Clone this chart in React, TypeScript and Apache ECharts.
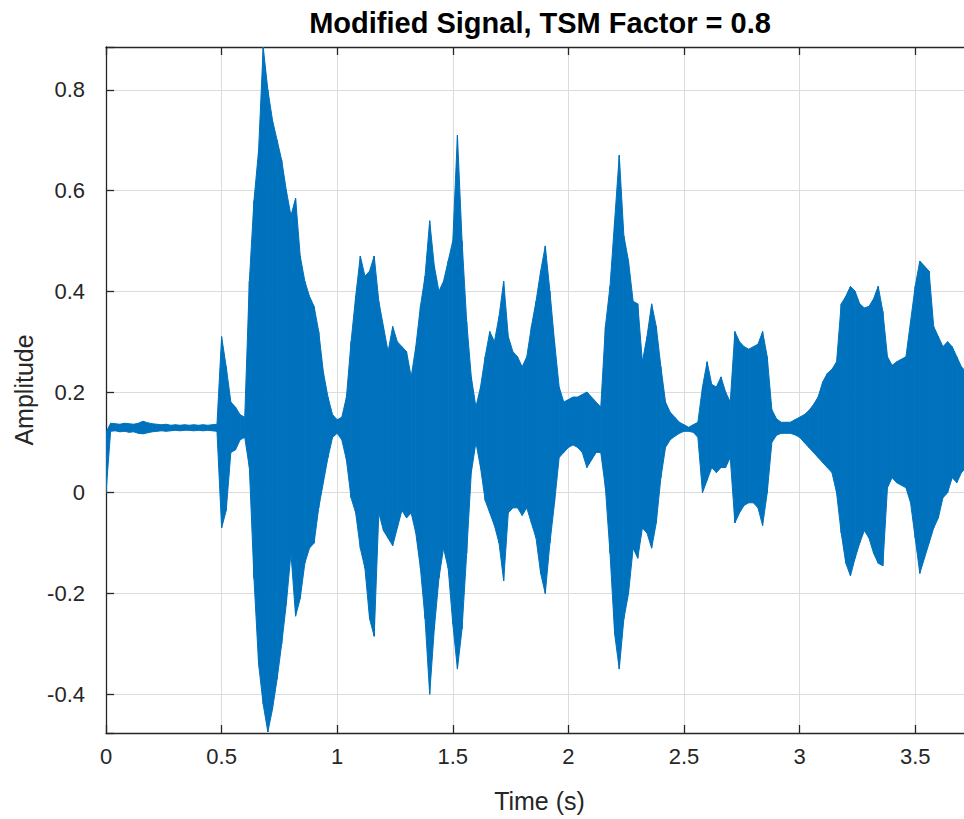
import React, { useEffect, useRef } from 'react';
import * as echarts from 'echarts';

// Sampling grid of the envelope (seconds)
const T_START = 0;
const T_STEP = 0.02;

// Upper envelope of the waveform, t = 0 .. 3.72 s every 0.02 s
const UPPER = [
  0.12, 0.138, 0.137, 0.136, 0.138, 0.137, 0.136, 0.138, 0.142, 0.139,
  0.137, 0.136, 0.135, 0.136, 0.134, 0.135, 0.134, 0.135, 0.134, 0.135,
  0.134, 0.135, 0.134, 0.135, 0.136,
  0.31, 0.25, 0.18, 0.17, 0.155, 0.15, 0.42, 0.58, 0.68, 0.885,
  0.80, 0.74, 0.70, 0.66, 0.60, 0.55, 0.585, 0.47, 0.42, 0.39,
  0.37, 0.32, 0.24, 0.19, 0.155,
  0.145, 0.15, 0.19, 0.30, 0.39, 0.47, 0.43, 0.44, 0.47, 0.38,
  0.33, 0.28, 0.33, 0.30, 0.29, 0.28, 0.23, 0.29, 0.37, 0.43,
  0.54, 0.45, 0.40, 0.42, 0.46, 0.50, 0.71, 0.50, 0.34, 0.23,
  0.17, 0.21, 0.27, 0.32, 0.30, 0.35, 0.42, 0.31, 0.28, 0.27,
  0.25, 0.27, 0.33, 0.38, 0.44, 0.49, 0.40, 0.30, 0.21, 0.18,
  0.185, 0.19, 0.19, 0.195, 0.20, 0.19, 0.18, 0.17, 0.33, 0.41,
  0.54, 0.67, 0.51, 0.46, 0.38, 0.375, 0.26, 0.31, 0.375, 0.33,
  0.25, 0.18, 0.16, 0.15, 0.14, 0.135, 0.13, 0.135, 0.14, 0.21,
  0.26, 0.215, 0.21, 0.23, 0.20, 0.18, 0.32, 0.30, 0.29, 0.285,
  0.29, 0.295, 0.32, 0.27, 0.165, 0.147, 0.14, 0.14, 0.14, 0.145,
  0.15, 0.155, 0.163, 0.175, 0.19, 0.22, 0.237, 0.245, 0.26, 0.375,
  0.39, 0.41, 0.40, 0.375, 0.367, 0.37, 0.385, 0.41, 0.36, 0.27,
  0.253, 0.26, 0.265, 0.27, 0.34, 0.41, 0.46, 0.45, 0.44, 0.33,
  0.31, 0.29, 0.30, 0.29, 0.27, 0.25, 0.24,
];

// Lower envelope of the waveform, same sampling
const LOWER = [
  0.0, 0.122, 0.123, 0.121, 0.122, 0.12, 0.121, 0.118, 0.117, 0.119,
  0.121, 0.122, 0.123, 0.122, 0.123, 0.124, 0.123, 0.124, 0.124, 0.123,
  0.124, 0.123, 0.124, 0.123, 0.122,
  -0.07, -0.035, 0.08, 0.085, 0.105, 0.11, 0.05, -0.17, -0.34, -0.42,
  -0.475, -0.43, -0.37, -0.30, -0.22, -0.12, -0.245, -0.21, -0.14, -0.11,
  -0.10, -0.03, 0.02, 0.07, 0.11,
  0.118, 0.105, 0.065, -0.01, -0.04, -0.11, -0.15, -0.25, -0.285, -0.04,
  -0.075, -0.09, -0.105, -0.07, -0.035, -0.05, -0.04, -0.08, -0.15, -0.25,
  -0.40, -0.27, -0.17, -0.11, -0.15, -0.26, -0.35, -0.27, -0.12, 0.04,
  0.10, 0.05, -0.015, -0.04, -0.065, -0.10, -0.175, -0.04, -0.03, -0.03,
  -0.045, -0.03, -0.06, -0.09, -0.16, -0.20, -0.10, -0.02, 0.07, 0.08,
  0.09, 0.095, 0.09, 0.08, 0.05, 0.065, 0.08, 0.08, 0.01, -0.12,
  -0.28, -0.35, -0.25, -0.20, -0.11, -0.13, -0.07, -0.08, -0.11, -0.06,
  0.03, 0.09, 0.105, 0.112, 0.118, 0.122, 0.122, 0.12, 0.11, 0.0,
  0.025, 0.05, 0.04, 0.05, 0.05, 0.07, -0.06, -0.04, -0.025, -0.02,
  -0.02, -0.03, -0.065, 0.0, 0.10, 0.114, 0.118, 0.118, 0.118, 0.115,
  0.11, 0.10, 0.09, 0.08, 0.07, 0.06, 0.05, 0.04, 0.0, -0.08,
  -0.14, -0.165, -0.13, -0.10, -0.075, -0.09, -0.12, -0.14, -0.145, 0.01,
  0.03, 0.02, 0.015, 0.01, -0.02, -0.09, -0.16, -0.13, -0.10, -0.07,
  -0.05, -0.01, 0.0, 0.03, 0.02, 0.04, 0.05,
];

const X_MIN = 0;
const X_MAX = 3.75;
const X_INTERVAL = 0.5;
const Y_MIN = -0.477;
const Y_MAX = 0.885;
const Y_TICK = 0.2;

const TITLE = 'Modified Signal, TSM Factor = 0.8';
const X_NAME = 'Time (s)';
const Y_NAME = 'Amplitude';

const FONT = '"Liberation Sans", Arial, Helvetica, sans-serif';
const TEXT = '#262626';
const AXIS = '#262626';
const GRID = '#dcdcdc';
const WAVE = '#0072BD';

function isMultiple(v: number, step: number) {
  const r = v / step;
  return Math.abs(r - Math.round(r)) < 1e-6;
}

// The axes box runs past the right edge of the picture, so the chart is a bit
// wider than the visible frame and the overflow is hidden.
const VIEW_W = 964;
const VIEW_H = 819;
const CHART_W = 976;

export default function App() {
  const ref = useRef<HTMLDivElement>(null);

  useEffect(() => {
    if (!ref.current) return;
    const chart = echarts.init(ref.current, undefined, { renderer: 'svg' });

    const data = UPPER.map((hi, i) => [T_START + i * T_STEP, LOWER[i], hi]);

    const left = 106;
    const pxPerSec = 231.6;
    const right = CHART_W - (left + (X_MAX - X_MIN) * pxPerSec);

    chart.setOption({
      animation: false,
      backgroundColor: '#ffffff',
      textStyle: { fontFamily: FONT },
      grid: { left, right, top: 47, bottom: 86, containLabel: false },
      graphic: [
        {
          type: 'text',
          x: 540,
          y: 23,
          style: {
            text: TITLE,
            fontFamily: FONT,
            fontSize: 29,
            fontWeight: 'bold',
            fill: '#000000',
            textAlign: 'center',
            textVerticalAlign: 'middle',
          },
        },
      ],
      xAxis: [
        {
          type: 'value',
          min: X_MIN,
          max: X_MAX,
          interval: X_INTERVAL,
          name: X_NAME,
          nameLocation: 'middle',
          nameGap: 55,
          nameTextStyle: { fontSize: 25, color: TEXT, fontFamily: FONT },
          axisLine: { show: true, onZero: false, lineStyle: { color: AXIS, width: 1.3 } },
          axisTick: { show: true, inside: true, length: 8, lineStyle: { color: AXIS, width: 1.3 } },
          axisLabel: {
            color: TEXT,
            fontSize: 22,
            fontFamily: FONT,
            margin: 12,
            formatter: (v: number) => (isMultiple(v, X_INTERVAL) ? String(Math.round(v * 10) / 10) : ''),
          },
          splitLine: { show: true, lineStyle: { color: GRID, width: 1 } },
        },
        {
          type: 'value',
          position: 'top',
          min: X_MIN,
          max: X_MAX,
          interval: X_INTERVAL,
          axisLine: { show: true, onZero: false, lineStyle: { color: AXIS, width: 1.3 } },
          axisTick: { show: true, inside: true, length: 8, lineStyle: { color: AXIS, width: 1.3 } },
          axisLabel: { show: false },
          splitLine: { show: false },
        },
      ],
      yAxis: {
        type: 'value',
        min: Y_MIN,
        max: Y_MAX,
        splitNumber: 7,
        name: Y_NAME,
        nameLocation: 'middle',
        nameGap: 58,
        nameTextStyle: { fontSize: 25, color: TEXT, fontFamily: FONT },
        axisLine: { show: true, onZero: false, lineStyle: { color: AXIS, width: 1.3 } },
        axisTick: { show: true, inside: true, length: 8, lineStyle: { color: AXIS, width: 1.3 } },
        axisLabel: {
          color: TEXT,
          fontSize: 22,
          fontFamily: FONT,
          margin: 21,
          formatter: (v: number) => (isMultiple(v, Y_TICK) ? String(Math.round(v * 10) / 10) : ''),
        },
        splitLine: { show: true, lineStyle: { color: GRID, width: 1 } },
      },
      series: [
        {
          type: 'custom',
          clip: true,
          xAxisIndex: 0,
          yAxisIndex: 0,
          encode: { x: 0, y: [1, 2] },
          data,
          renderItem: (params: any, api: any) => {
            const i = params.dataIndex;
            if (i >= data.length - 1) return null;
            const [t0, lo0, hi0] = data[i];
            const [t1, lo1, hi1] = data[i + 1];
            const pts = [
              api.coord([t0, hi0]),
              api.coord([t1, hi1]),
              api.coord([t1, lo1]),
              api.coord([t0, lo0]),
            ];
            return {
              type: 'polygon',
              shape: { points: pts },
              style: { fill: WAVE, stroke: WAVE, lineWidth: 1 },
            };
          },
        },
      ],
    });

    return () => chart.dispose();
  }, []);

  return (
    <div
      style={{
        position: 'absolute',
        left: 0,
        top: 0,
        width: VIEW_W,
        height: VIEW_H,
        overflow: 'hidden',
        background: '#ffffff',
      }}
    >
      <div ref={ref} style={{ width: CHART_W, height: VIEW_H }} />
    </div>
  );
}
